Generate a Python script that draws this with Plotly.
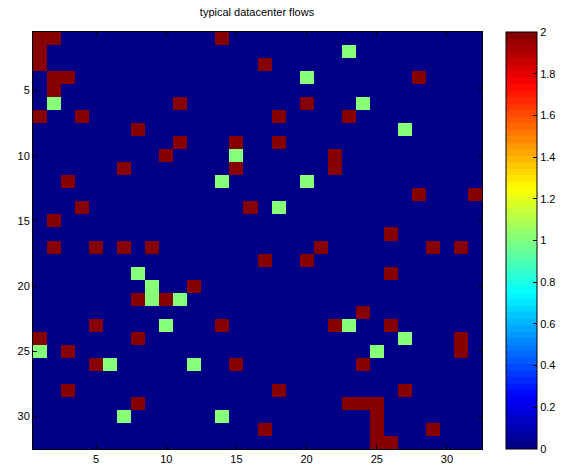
import plotly.graph_objects as go

N = 32
# (row, col) cells with value 2
twos_rows = [1,1,1,2,3,3,4,4,4,5,6,6,7,7,7,7,8,9,9,9,10,10,11,11,11,12,13,13,14,14,15,16,
             17,17,17,17,17,17,17,18,18,19,20,21,21,22,23,23,23,23,24,24,24,25,25,26,26,26,
             28,28,28,29,29,29,29,30,31,31,31,32,32]
twos_cols = [1,2,14,1,1,17,2,3,28,2,11,20,1,4,18,23,8,11,15,18,10,22,7,15,22,3,28,32,4,16,2,26,
             2,5,7,9,21,29,31,17,20,26,12,8,10,24,5,14,22,26,1,8,31,3,31,5,15,24,
             3,18,27,8,23,24,25,25,17,25,29,25,26]
# (row, col) cells with value 1
ones_rows = [2,4,6,6,8,10,12,12,14,19,20,21,21,23,23,24,25,25,26,26,30,30]
ones_cols = [23,20,2,24,27,15,14,20,18,8,9,9,11,10,23,27,1,25,6,12,7,14]

cb_ticks = [0, 0.2, 0.4, 0.6, 0.8, 1, 1.2, 1.4, 1.6, 1.8, 2]
cb_labels = ["0", "0.2", "0.4", "0.6", "0.8", "1", "1.2", "1.4", "1.6", "1.8", "2"]
axis_ticks = [5, 10, 15, 20, 25, 30]

z = [[0] * N for _ in range(N)]
for r, c in zip(twos_rows, twos_cols):
    z[r - 1][c - 1] = 2
for r, c in zip(ones_rows, ones_cols):
    z[r - 1][c - 1] = 1

# MATLAB jet(64)
def jet64():
    cols = []
    n = 64
    for i in range(n):
        x = (i + 0.5) / n
        r = min(max(min(4 * x - 1.5, -4 * x + 4.5), 0), 1)
        g = min(max(min(4 * x - 0.5, -4 * x + 3.5), 0), 1)
        b = min(max(min(4 * x + 0.5, -4 * x + 2.5), 0), 1)
        cols.append("rgb(%d,%d,%d)" % (round(r * 255), round(g * 255), round(b * 255)))
    return cols

jc = jet64()
cs = []
for i, c in enumerate(jc):
    lo = i / 64
    hi = (i + 1) / 64
    cs.append([lo, c])
    cs.append([1.0 if i == 63 else hi - 1e-6, c])

W, H = 563, 468
L, R, T, B = 32.5, 81.2, 32, 18.7
pw = W - L - R
fig = go.Figure(go.Heatmap(
    z=z,
    x=list(range(1, N + 1)),
    y=list(range(1, N + 1)),
    zmin=0, zmax=2,
    colorscale=cs,
    xgap=0, ygap=0,
    hoverinfo="skip",
    colorbar=dict(
        x=(506 - L) / pw, xanchor="left", xpad=0,
        y=1.0, yanchor="top", len=1.0, lenmode="fraction", ypad=0,
        thickness=31, thicknessmode="pixels",
        outlinewidth=1, outlinecolor="black",
        tickvals=cb_ticks, ticktext=cb_labels,
        ticks="inside", ticklen=4, tickcolor="black",
        tickfont=dict(family="Liberation Sans, Arial", size=11, color="black"),
    ),
))

fig.update_layout(
    width=W, height=H,
    margin=dict(l=L, r=R, t=T, b=B, autoexpand=False),
    paper_bgcolor="white", plot_bgcolor="white",
    title=dict(text="typical datacenter flows", x=(257 / W), xanchor="center",
               y=1 - 12 / H, yanchor="middle",
               font=dict(family="Liberation Sans, Arial", size=11, color="black")),
    font=dict(family="Liberation Sans, Arial", size=11, color="black"),
)
fig.update_xaxes(range=[0.5, N + 0.5], tickvals=axis_ticks, ticks="inside", ticklen=4,
                 showline=True, linecolor="black", linewidth=1, mirror="ticks",
                 showgrid=False, zeroline=False, tickcolor="black")
fig.update_yaxes(range=[N + 0.5, 0.5], tickvals=axis_ticks, ticks="inside", ticklen=4,
                 showline=True, linecolor="black", linewidth=1, mirror="ticks",
                 showgrid=False, zeroline=False, tickcolor="black")

fig.write_html("out.html")
